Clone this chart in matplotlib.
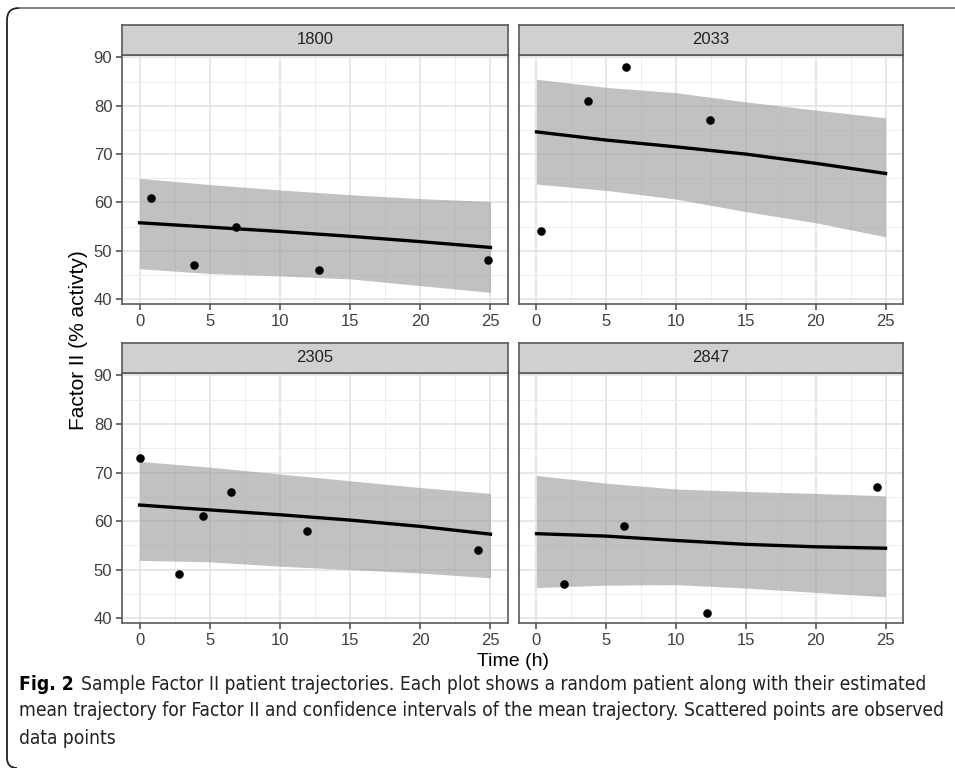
import matplotlib
matplotlib.use("Agg")
import matplotlib.pyplot as plt
from matplotlib.path import Path
from matplotlib.patches import PathPatch
import numpy as np

# ---------------- data ----------------
patients = ["1800", "2033", "2305", "2847"]
grid_t = [0, 5, 10, 15, 20, 25]

mean_1800 = [55.8, 54.9, 54.0, 53.0, 51.9, 50.7]
upper_1800 = [65.0, 63.7, 62.6, 61.6, 60.8, 60.2]
lower_1800 = [46.3, 45.3, 44.8, 44.2, 42.8, 41.4]
obs_t_1800 = [0.8, 3.9, 6.9, 12.8, 24.8]
obs_y_1800 = [61, 47, 55, 46, 48]

mean_2033 = [74.6, 72.9, 71.5, 70.0, 68.1, 66.0]
upper_2033 = [85.5, 83.8, 82.7, 80.8, 79.1, 77.5]
lower_2033 = [63.8, 62.5, 60.7, 58.1, 55.8, 52.9]
obs_t_2033 = [0.3, 3.7, 6.4, 12.4]
obs_y_2033 = [54, 81, 88, 77]

mean_2305 = [63.3, 62.3, 61.3, 60.2, 58.9, 57.3]
upper_2305 = [72.3, 71.1, 69.7, 68.3, 66.9, 65.7]
lower_2305 = [51.9, 51.6, 50.7, 50.0, 49.3, 48.3]
obs_t_2305 = [0.05, 2.8, 4.5, 6.5, 11.9, 24.1]
obs_y_2305 = [73, 49, 61, 66, 58, 54]

mean_2847 = [57.4, 56.9, 56.0, 55.2, 54.7, 54.4]
upper_2847 = [69.4, 67.8, 66.6, 66.1, 65.7, 65.2]
lower_2847 = [46.3, 46.8, 46.9, 46.2, 45.3, 44.4]
obs_t_2847 = [1.95, 6.3, 12.2, 24.4]
obs_y_2847 = [47, 59, 41, 67]

x_ticks = [0, 5, 10, 15, 20, 25]
y_ticks = [40, 50, 60, 70, 80, 90]

x_label = "Time (h)"
y_label = "Factor II (% activty)"
caption_bold = "Fig. 2"
caption_lines = [
    "Sample Factor II patient trajectories. Each plot shows a random patient along with their estimated",
    "mean trajectory for Factor II and confidence intervals of the mean trajectory. Scattered points are observed",
    "data points",
]

panels = [
    (mean_1800, upper_1800, lower_1800, obs_t_1800, obs_y_1800),
    (mean_2033, upper_2033, lower_2033, obs_t_2033, obs_y_2033),
    (mean_2305, upper_2305, lower_2305, obs_t_2305, obs_y_2305),
    (mean_2847, upper_2847, lower_2847, obs_t_2847, obs_y_2847),
]

# ---------------- figure ----------------
W, H = 955, 768
fig = plt.figure(figsize=(W / 100, H / 100), dpi=100)
plt.rcParams['font.family'] = ['Liberation Sans', 'DejaVu Sans']

def px_axes(x0, y0, x1, y1, **kw):
    return fig.add_axes([x0 / W, 1 - y1 / H, (x1 - x0) / W, (y1 - y0) / H], **kw)

boxes = [
    (122, 55, 508, 304),
    (519, 55, 903, 304),
    (122, 373, 508, 623),
    (519, 373, 903, 623),
]
strip_h = 30
border_col = "#5a5a5a"

for i, (box, name, data) in enumerate(zip(boxes, patients, panels)):
    mean, up, lo, ot, oy = data
    x0, y0, x1, y1 = box
    ax = px_axes(x0, y0, x1, y1)
    ax.set_xlim(-1.25, 26.25)
    ax.set_ylim(39.0, 90.5)
    ax.set_xticks(x_ticks)
    ax.set_yticks(y_ticks)
    ax.set_xticks(np.arange(2.5, 26, 5), minor=True)
    ax.set_yticks(np.arange(45, 90, 10), minor=True)
    ax.grid(which="major", color="#e3e3e3", linewidth=1.2, zorder=0)
    ax.grid(which="minor", color="#eeeeee", linewidth=0.7, zorder=0)
    ax.tick_params(which="minor", length=0)
    ax.tick_params(which="major", length=4, width=1.1, color="#444444",
                   labelsize=12, labelcolor="#404040", pad=3)
    if i % 2 == 1:
        ax.tick_params(axis="y", labelleft=False, length=0)
    ax.set_axisbelow(True)
    for s in ax.spines.values():
        s.set_color(border_col)
        s.set_linewidth(1.2)
    ax.fill_between(grid_t, lo, up, color="#999999", alpha=0.6, linewidth=0, zorder=2)
    ax.plot(grid_t, mean, color="black", linewidth=2.4, zorder=3)
    ax.scatter(ot, oy, s=38, color="black", zorder=4, linewidths=0)

    sax = px_axes(x0, y0 - strip_h, x1, y0)
    sax.set_facecolor("#d0d0d0")
    sax.set_xticks([])
    sax.set_yticks([])
    for s in sax.spines.values():
        s.set_color(border_col)
        s.set_linewidth(1.2)
    sax.text(0.5, 0.5, name, ha="center", va="center", fontsize=12,
             color="#222222", transform=sax.transAxes)

fig.text(513 / W, 1 - 662 / H, x_label, ha="center", va="center", fontsize=14, color="black")
fig.text(79 / W, 1 - 340 / H, y_label, ha="center", va="center", rotation=90,
         fontsize=15, color="black")

# caption, fitted to the reference width
y_lines = [684, 711, 738]
cap_kw = dict(family=['DejaVu Sans'], stretch="condensed")
renderer = fig.canvas.get_renderer()
size = 13.0
probe = fig.text(0, 0, caption_lines[1], fontsize=size, **cap_kw)
w = probe.get_window_extent(renderer).width
probe.remove()
size = size * 928.0 / w

t0 = fig.text(19 / W, 1 - y_lines[0] / H, caption_bold, ha="left", va="center",
              fontsize=size, fontweight="bold", color="black", **cap_kw)
bb = t0.get_window_extent(renderer)
fig.text((bb.x1 + 7) / W, 1 - y_lines[0] / H, caption_lines[0], ha="left", va="center",
         fontsize=size, color="#222222", **cap_kw)
for yl, line in zip(y_lines[1:], caption_lines[1:]):
    fig.text(19 / W, 1 - yl / H, line, ha="left", va="center",
             fontsize=size, color="#222222", **cap_kw)

# frame with rounded corners
r = 12
def fy(y):
    return 1 - y / H
left = Path([((7 + r) / W, fy(8)), (7 / W, fy(8)), (7 / W, fy(8 + r)), (7 / W, fy(758)),
             (7 / W, fy(768)), (17 / W, fy(768))],
            [Path.MOVETO, Path.CURVE3, Path.CURVE3, Path.LINETO, Path.CURVE3, Path.CURVE3])
fig.patches.append(PathPatch(left, transform=fig.transFigure, fill=False,
                             edgecolor="#222222", linewidth=1.3))
topline = Path([((7 + r) / W, fy(8)), (1.02, fy(8))], [Path.MOVETO, Path.LINETO])
fig.patches.append(PathPatch(topline, transform=fig.transFigure, fill=False,
                             edgecolor="#777777", linewidth=1.3))

fig.savefig("out.png", dpi=100)
